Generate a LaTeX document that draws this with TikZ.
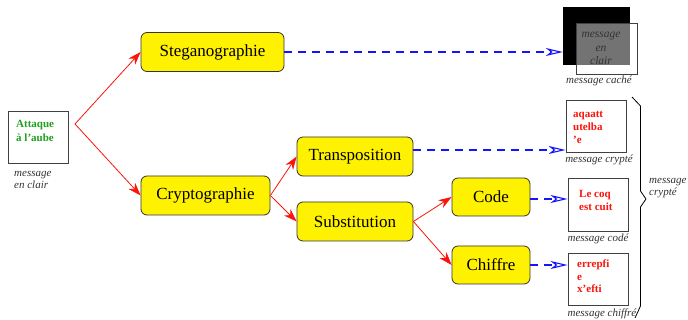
\documentclass[tikz,border=0pt]{standalone}
\usepackage{fontspec}
\setmainfont{Liberation Serif}
\usetikzlibrary{arrows.meta}
\definecolor{fgreen}{RGB}{30,160,30}
\definecolor{fred}{RGB}{250,20,10}
\definecolor{fblue}{RGB}{20,20,255}
\definecolor{cap}{RGB}{50,50,50}
\begin{document}
\begin{tikzpicture}[x=1pt,y=-1pt,
  stage/.style={draw=black!80, line width=0.8pt, fill=yellow, rounded corners=6pt,
    inner sep=0pt, font=\fontsize{17}{20}\selectfont},
  msgbox/.style={draw=black!75, line width=0.9pt, fill=white, inner sep=0pt,
    minimum width=60pt, minimum height=52pt},
  msgtext/.style={anchor=west, align=left, inner sep=0pt, text=fred,
    font=\fontsize{11}{13}\selectfont\bfseries},
  caption/.style={inner sep=0pt, text=cap, font=\fontsize{11}{12}\selectfont\itshape},
  redarrow/.style={color=fred, line width=0.8pt,
    -{Stealth[length=13pt, width=9pt, inset=4pt]}},
  bluearrow/.style={color=fblue, line width=1.1pt, dash pattern=on 8pt off 6pt,
    -{Stealth[open, length=17pt, width=8pt, inset=5pt]}}]
\useasboundingbox (0,0) rectangle (688,320);

% plain-text message
\node[draw=black!75, line width=0.9pt, minimum width=60pt, minimum height=52pt,
  inner sep=0pt] (attaque) at (38,137) {};
\node[anchor=west, align=left, inner sep=0pt, text=fgreen,
  font=\fontsize{11}{14}\selectfont\bfseries] (attaquetxt) at (16,131) {Attaque\\à l'aube};
\node[caption, anchor=west, align=left] (clair) at (14,179.5) {message\\en clair};
\coordinate (split) at (75,124);

% techniques
\node[stage, minimum width=143pt, minimum height=39pt] (stego) at (212.5,52) {Steganographie};
\node[stage, minimum width=129pt, minimum height=39pt] (crypto) at (205.5,195.5) {Cryptographie};
\node[stage, minimum width=116pt, minimum height=39pt] (trans) at (355,156.5) {Transposition};
\node[stage, minimum width=116pt, minimum height=39pt] (subst) at (355,221.5) {Substitution};
\node[stage, minimum width=78pt, minimum height=38pt] (code) at (491,197) {Code};
\node[stage, minimum width=78pt, minimum height=38pt] (chiffre) at (491,265) {Chiffre};

% hidden message
\node[fill=black, draw=black, minimum width=66pt, minimum height=57pt, inner sep=0pt]
  (cache) at (596,35.5) {};
\node[draw=black!75, line width=0.9pt, fill=white, fill opacity=0.45, draw opacity=1,
  minimum width=61pt, minimum height=51pt, inner sep=0pt] (voile) at (606.5,48.5) {};
\node[inner sep=0pt, align=center, text=black!80,
  font=\fontsize{11.5}{13.5}\selectfont\itshape] (cachetxt) at (601,48.5) {message\\en\\clair};
\node[caption] (capcache) at (599,81) {message caché};

% ciphered messages
\node[msgbox] (m1) at (596,126) {};
\node[msgtext] (m1txt) at (573,127) {aqaatt\\utelba\\'e};
\node[caption] (cap1) at (599,160) {message crypté};

\node[msgbox, minimum height=53pt] (m2) at (598,204.5) {};
\node[msgtext] (m2txt) at (579,200.5) {Le coq\\est cuit};
\node[caption] (cap2) at (598,239) {message codé};

\node[msgbox] (m3) at (598,279) {};
\node[msgtext, font=\fontsize{11}{12.5}\selectfont\bfseries] (m3txt) at (577,276.5) {errepfi\\e\\x'efti};
\node[caption] (cap3) at (602,314) {message chiffré};

% brace grouping the ciphered messages
\draw[black, line width=0.8pt] (632,97) -- (640.5,106) -- (640.5,191) -- (646,199)
  -- (640.5,207) -- (640.5,306) -- (635,318);
\node[caption, anchor=west, align=left] (capgroupe) at (649,188.5) {message\\crypté};

% red derivation arrows
\draw[redarrow] (split) -- (stego.west);
\draw[redarrow] (split) -- (crypto.west);
\draw[redarrow] (crypto.east) -- (trans.west);
\draw[redarrow] (crypto.east) -- (subst.west);
\draw[redarrow] (subst.east) -- (code.west);
\draw[redarrow] (subst.east) -- (chiffre.west);

% blue result arrows
\draw[bluearrow] (stego.east) -- (stego.east -| cache.west);
\draw[bluearrow] ([yshift=6.5pt]trans.east) -- ([yshift=6.5pt]trans.east -| m1.west);
\draw[bluearrow] ([yshift=-2pt]code.east) -- ([yshift=-2pt]code.east -| m2.west);
\draw[bluearrow] (chiffre.east) -- (chiffre.east -| m3.west);
\end{tikzpicture}
\end{document}
